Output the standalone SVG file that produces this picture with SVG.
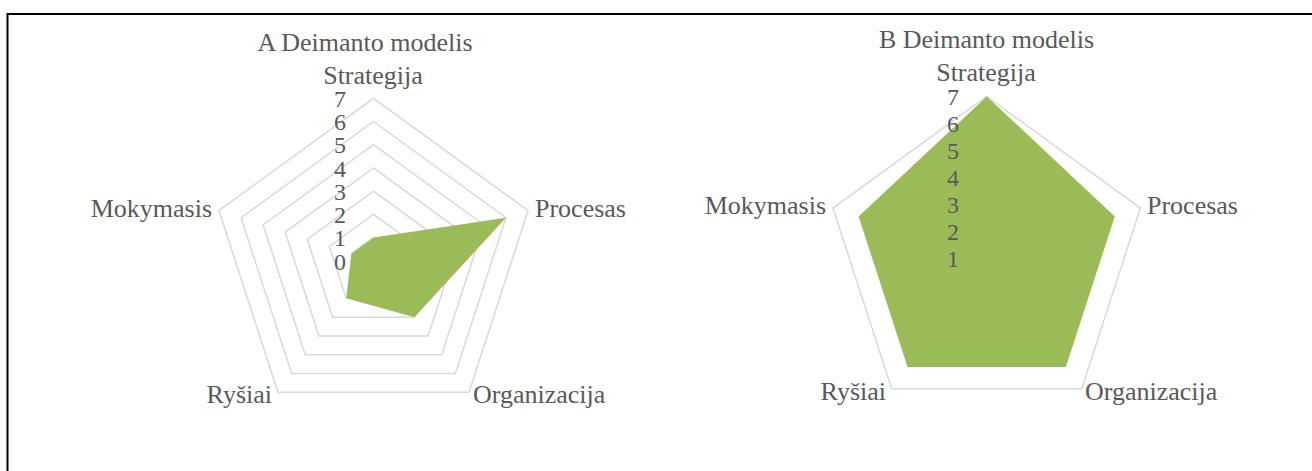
<svg xmlns="http://www.w3.org/2000/svg" width="1312" height="471" viewBox="0 0 1312 471">
<style>
text{font-family:"Liberation Serif","Times New Roman","DejaVu Serif",serif;font-size:26px;fill:#595959}
.ax{font-size:24px}
.ring{fill:none;stroke:#d9d9d9;stroke-width:1.5;stroke-linejoin:miter}
.area{fill:#9bbb59;stroke:none}
.mid{text-anchor:middle}
.end{text-anchor:end}
</style>
<rect width="1312" height="471" fill="#ffffff"/>
<path d="M7.5,471 V14 H1312" fill="none" stroke="#000" stroke-width="2"/>
<g id="chartA" font-family="Liberation Serif, serif">
<g id="gridA">
<polygon class="ring" points="373.5,237.59 395.58,253.63 387.14,279.58 359.86,279.58 351.42,253.63"/>
<polygon class="ring" points="373.5,214.37 417.66,246.45 400.79,298.36 346.21,298.36 329.34,246.45"/>
<polygon class="ring" points="373.5,191.16 439.73,239.28 414.43,317.14 332.57,317.14 307.27,239.28"/>
<polygon class="ring" points="373.5,167.94 461.81,232.10 428.08,335.92 318.92,335.92 285.19,232.10"/>
<polygon class="ring" points="373.5,144.73 483.89,224.93 441.73,354.70 305.27,354.70 263.11,224.93"/>
<polygon class="ring" points="373.5,121.51 505.97,217.76 455.37,373.49 291.63,373.49 241.03,217.76"/>
<polygon class="ring" points="373.5,98.3 528.05,210.58 469.02,392.27 277.98,392.27 218.95,210.58"/>
</g>
<polygon id="seriesA" class="area" points="373.5,237.59 505.97,217.76 414.43,317.14 346.21,298.36 351.42,253.63"/>
<g id="axisA" class="mid">
<text class="ax" x="340" y="107">7</text>
<text class="ax" x="340" y="130">6</text>
<text class="ax" x="340" y="153">5</text>
<text class="ax" x="340" y="176.5">4</text>
<text class="ax" x="340" y="199.5">3</text>
<text class="ax" x="340" y="223">2</text>
<text class="ax" x="340" y="246">1</text>
<text class="ax" x="340" y="269.5">0</text>
</g>
<text id="titleA" class="mid" x="365" y="51">A Deimanto modelis</text>
<text class="mid" x="373" y="84">Strategija</text>
<text x="535" y="217">Procesas</text>
<text x="473" y="403">Organizacija</text>
<text class="end" x="272" y="403">Ryšiai</text>
<text class="end" x="212" y="217">Mokymasis</text>
</g>
<g id="chartB">
<polygon class="ring" points="986.7,96.4 1140.39,208.06 1081.69,388.74 891.71,388.74 833.01,208.06"/>
<polygon id="seriesB" class="area" points="986.7,96.4 1114.78,216.38 1065.86,366.95 907.54,366.95 858.62,216.38"/>
<g id="axisB" class="mid">
<text class="ax" x="953" y="105">7</text>
<text class="ax" x="953" y="132">6</text>
<text class="ax" x="953" y="159">5</text>
<text class="ax" x="953" y="186">4</text>
<text class="ax" x="953" y="213">3</text>
<text class="ax" x="953" y="240">2</text>
<text class="ax" x="953" y="267">1</text>
</g>
<text id="titleB" class="mid" x="986.5" y="48">B Deimanto modelis</text>
<text class="mid" x="986" y="81">Strategija</text>
<text x="1147" y="214">Procesas</text>
<text x="1085" y="400">Organizacija</text>
<text class="end" x="886" y="400">Ryšiai</text>
<text class="end" x="826" y="214">Mokymasis</text>
</g>
</svg>
